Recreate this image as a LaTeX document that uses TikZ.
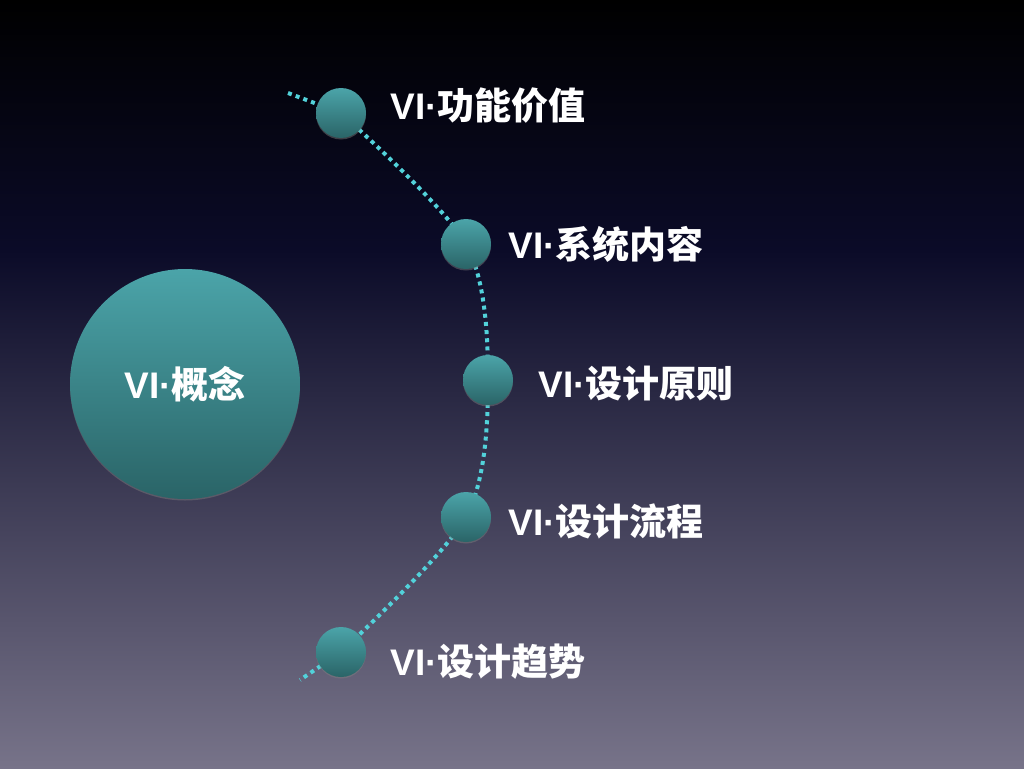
\documentclass[tikz,border=0pt]{standalone}
\usepackage{xcolor}
\usepackage{tikz}
\usepackage{fontspec}
\usetikzlibrary{positioning,shadows}

\newfontfamily\cjkfont{Noto Sans CJK SC}
\newfontfamily\latinfont{Liberation Sans}
\newcommand{\vidot}{{\latinfont\bfseries VI·}}

\definecolor{bgmid}{HTML}{0B0B28}
\definecolor{bgbot}{HTML}{777389}
\definecolor{tealtop}{HTML}{4BA4A9}
\definecolor{tealbot}{HTML}{2A6467}
\definecolor{dotcyan}{HTML}{52D2DA}

\begin{document}
\begin{tikzpicture}[x=1pt, y=-1pt,
    ball/.style={circle, minimum size=50pt, inner sep=0pt, top color=tealtop, bottom color=tealbot,
        drop shadow={opacity=0.45, shadow xshift=0pt, shadow yshift=-1.5pt}},
    bigball/.style={ball, minimum size=230pt},
    itemlabel/.style={inner sep=0pt, anchor=west, text=white, font=\cjkfont\bfseries\fontsize{37}{40}\selectfont},
    dotline/.style={draw=dotcyan, line width=4pt, dash pattern=on 4pt off 4.2pt}]

    \useasboundingbox (0,0) rectangle (1024,768);

    % Background
    \shade[top color=black, bottom color=bgmid] (0,0) rectangle (1024,250);
    \shade[top color=bgmid, bottom color=bgbot] (0,250) rectangle (1024,768);

    % Points on the arc
    \coordinate (start) at (288,93);
    \coordinate (p1) at (341,113);
    \coordinate (p2) at (466,244);
    \coordinate (p3) at (488,380);
    \coordinate (p4) at (466,517);
    \coordinate (p5) at (341,652);
    \coordinate (finish) at (300,680);

    % Dotted arc
    \draw[dotline] (start) -- (p1);
    \draw[dotline] plot[smooth, tension=0.5] coordinates {(p1) (p2) (p3) (p4) (p5)};
    \draw[dotline] (p5) -- (finish);

    % Main circle
    \node[bigball, text=white, font=\cjkfont\bfseries\fontsize{37}{40}\selectfont] (concept) at (185,384) {\vidot 概念};

    % Small circles
    \node[ball] (b1) at (p1) {};
    \node[ball] (b2) at (p2) {};
    \node[ball] (b3) at (p3) {};
    \node[ball] (b4) at (p4) {};
    \node[ball] (b5) at (p5) {};

    % Labels
    \node[itemlabel, right=24pt of b1, yshift=7pt] (value) {\vidot 功能价值};
    \node[itemlabel, right=17pt of b2] (system) {\vidot 系统内容};
    \node[itemlabel, right=25pt of b3, yshift=-4pt] (principle) {\vidot 设计原则};
    \node[itemlabel, right=17pt of b4, yshift=-4pt] (process) {\vidot 设计流程};
    \node[itemlabel, right=24pt of b5, yshift=-10pt] (trend) {\vidot 设计趋势};

\end{tikzpicture}
\end{document}
